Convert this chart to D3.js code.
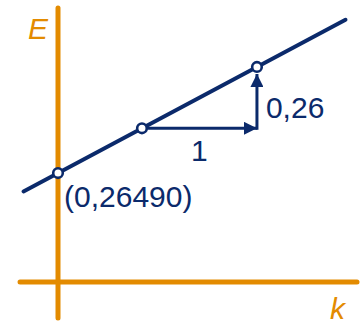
<!DOCTYPE html>
<html>
<head>
<meta charset="utf-8">
<script src="https://cdn.jsdelivr.net/npm/d3@7"></script>
<style>
  html, body { margin: 0; padding: 0; background: #fff; }
  svg { display: block; font-family: "Liberation Sans", Arial, sans-serif; }
</style>
</head>
<body>
<div id="chart"></div>
<script>
'use strict';

// ─── Дані ────────────────────────────────────────────────
const lineK    = [-0.30, 2.50];                 // кінці прямої E(k)
const lineE    = [0.1869, 0.9149];
const markerK  = [0, 0.73, 1.73];               // кружечки на прямій
const markerE  = [0.2649, 0.4547, 0.7147];
const stepK    = [0.73, 1.73];                  // горизонтальна стрілка
const stepE    = [0.4547, 0.7147];              // вертикальна стрілка
const labels   = { run: '1', rise: '0,26', point: '(0,26490)', yAxis: 'E', xAxis: 'k' };
const axisK    = [-0.33, 2.60];                 // межі осі k
const axisE    = [-0.35, 0.965];                // межі осі E
const kAxisAtE = -0.197;                        // де лежить вісь k

const W = 360, H = 324;
const ORANGE = '#e38b00', NAVY = '#0b2a6b';

// ─── Масштаби ────────────────────────────────────────────
const x = d3.scaleLinear().domain([0, 1]).range([58, 173]);
const y = d3.scaleLinear().domain([0, 1]).range([235.5, -0.3]);

const svg = d3.select('#chart').append('svg')
  .attr('width', W).attr('height', H);

const defs = svg.append('defs');
defs.append('marker')
  .attr('id', 'head')
  .attr('viewBox', '0 0 13 13')
  .attr('refX', 13).attr('refY', 6.5)
  .attr('markerWidth', 13).attr('markerHeight', 13)
  .attr('markerUnits', 'userSpaceOnUse')
  .attr('orient', 'auto')
  .append('path').attr('d', 'M0,0 L13,6.5 L0,13 Z').attr('fill', NAVY);

// Осі
svg.append('line')
  .attr('x1', x(axisK[0])).attr('x2', x(axisK[1]))
  .attr('y1', y(kAxisAtE)).attr('y2', y(kAxisAtE))
  .attr('stroke', ORANGE).attr('stroke-width', 5).attr('stroke-linecap', 'round');
svg.append('line')
  .attr('x1', x(0)).attr('x2', x(0))
  .attr('y1', y(axisE[0])).attr('y2', y(axisE[1]))
  .attr('stroke', ORANGE).attr('stroke-width', 5).attr('stroke-linecap', 'round');

svg.append('text')
  .attr('x', x(0) - 10).attr('y', y(axisE[1]) + 31)
  .attr('text-anchor', 'end').attr('font-style', 'italic')
  .attr('font-size', 30).attr('fill', ORANGE).text(labels.yAxis);
svg.append('text')
  .attr('x', x(axisK[1]) - 12).attr('y', y(kAxisAtE) + 37)
  .attr('text-anchor', 'end').attr('font-style', 'italic')
  .attr('font-size', 30).attr('fill', ORANGE).text(labels.xAxis);

// Пряма
svg.append('line')
  .attr('x1', x(lineK[0])).attr('y1', y(lineE[0]))
  .attr('x2', x(lineK[1])).attr('y2', y(lineE[1]))
  .attr('stroke', NAVY).attr('stroke-width', 4).attr('stroke-linecap', 'round');

// Стрілки: крок 1 по k і приріст 0,26 по E
svg.append('line')
  .attr('x1', x(stepK[0]) + 5).attr('y1', y(stepE[0]))
  .attr('x2', x(stepK[1])).attr('y2', y(stepE[0]))
  .attr('stroke', NAVY).attr('stroke-width', 3)
  .attr('marker-end', 'url(#head)');
svg.append('line')
  .attr('x1', x(stepK[1])).attr('y1', y(stepE[0]) + 1.5)
  .attr('x2', x(stepK[1])).attr('y2', y(stepE[1]) + 7)
  .attr('stroke', NAVY).attr('stroke-width', 3)
  .attr('marker-end', 'url(#head)');

// Кружечки
svg.selectAll('circle.pt')
  .data(markerK.map((k, i) => ({ k, e: markerE[i] })))
  .join('circle').attr('class', 'pt')
  .attr('cx', d => x(d.k)).attr('cy', d => y(d.e)).attr('r', 4.8)
  .attr('fill', '#fff').attr('stroke', NAVY).attr('stroke-width', 2.6);

// Підписи
svg.append('text')
  .attr('x', (x(stepK[0]) + x(stepK[1])) / 2).attr('y', y(stepE[0]) + 33)
  .attr('text-anchor', 'middle').attr('font-size', 30).attr('fill', NAVY)
  .text(labels.run);
svg.append('text')
  .attr('x', x(stepK[1]) + 9).attr('y', (y(stepE[0]) + y(stepE[1])) / 2 + 20)
  .attr('font-size', 30).attr('fill', NAVY).text(labels.rise);
svg.append('text')
  .attr('x', x(markerK[0]) + 6).attr('y', y(markerE[0]) + 34)
  .attr('font-size', 30).attr('fill', NAVY).text(labels.point);
</script>
</body>
</html>
